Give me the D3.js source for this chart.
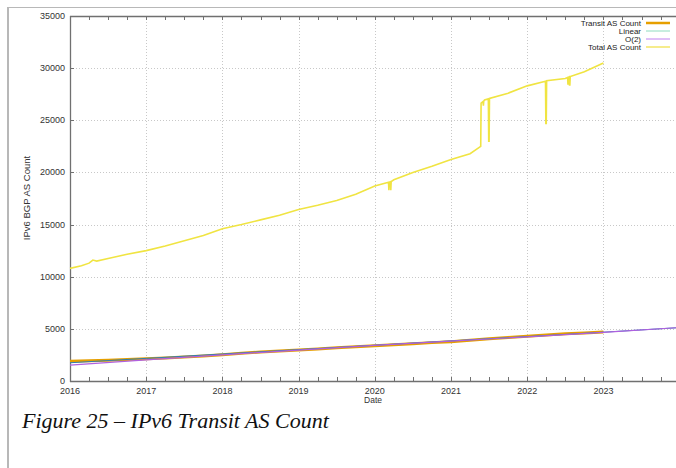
<!DOCTYPE html>
<html><head><meta charset="utf-8">
<script src="https://cdn.jsdelivr.net/npm/d3@7"></script>
<style>body{margin:0;background:#fff;overflow:hidden}svg{display:block}</style>
</head><body>
<svg id="c" width="676" height="468"></svg>
<script>
// ---- data ----
const yearTicks = [2016,2017,2018,2019,2020,2021,2022,2023];
const yTicks = [0,5000,10000,15000,20000,25000,30000,35000];
const seriesNames = ["Transit AS Count","Linear","O(2)","Total AS Count"];

const transitDates = [2016.0,2016.25,2016.5,2016.75,2017.0,2017.25,2017.5,2017.75,2018.0,2018.25,2018.5,2018.75,2019.0,2019.25,2019.5,2019.75,2020.0,2020.25,2020.5,2020.75,2021.0,2021.25,2021.5,2021.75,2022.0,2022.25,2022.5,2022.75,2023.0];
const transitValues = [1900,1950,2000,2060,2130,2210,2300,2400,2520,2650,2780,2880,2980,3080,3180,3280,3380,3480,3580,3680,3770,3900,4050,4180,4300,4420,4520,4610,4700];

const fitDates = [2016,2017,2018,2019,2020,2021,2022,2023,2024];
const linearValues = [1750,2170,2590,3010,3430,3850,4260,4680,5120];
const quadValues = [1520,2020,2510,2970,3410,3830,4240,4660,5130];

const totalDates = [2016.0,2016.15,2016.25,2016.3,2016.35,2016.5,2016.75,2017.0,2017.25,2017.5,2017.75,2018.0,2018.25,2018.5,2018.75,2019.0,2019.25,2019.5,2019.75,2020.0,2020.18,2020.185,2020.19,2020.205,2020.21,2020.215,2020.22,2020.25,2020.5,2020.75,2021.0,2021.25,2021.39,2021.395,2021.42,2021.425,2021.43,2021.44,2021.49,2021.495,2021.5,2021.505,2021.75,2022.0,2022.24,2022.245,2022.25,2022.255,2022.5,2022.53,2022.535,2022.54,2022.55,2022.555,2022.56,2022.565,2022.75,2023.0];
const totalValues = [10800,11050,11300,11600,11500,11750,12150,12500,12950,13450,13950,14600,15000,15450,15900,16450,16850,17300,17900,18700,19050,18300,19050,19100,18300,19100,19150,19300,20000,20600,21250,21800,22500,26650,26800,26400,26850,26950,27050,23000,23000,27100,27600,28300,28750,24700,24700,28800,29000,29100,28400,29100,29150,28400,28400,29200,29650,30500];

// ---- chart ----
const svg = d3.select("#c");
const W = 676, H = 468;
const x = d3.scaleLinear().domain([2016,2024]).range([70,679.6]);
const y = d3.scaleLinear().domain([0,35000]).range([381,16]);

// page frame
svg.append("line").attr("x1",8).attr("x2",W).attr("y1",7.5).attr("y2",7.5).attr("stroke","#b8b8b8").attr("stroke-width",1.2);
svg.append("line").attr("x1",8).attr("x2",8).attr("y1",7).attr("y2",H).attr("stroke","#b8b8b8").attr("stroke-width",2);

const g = svg.append("g");
// grid
g.selectAll(".gy").data(yTicks.slice(1,-1)).join("line")
  .attr("x1",70).attr("x2",W).attr("y1",d=>Math.round(y(d))+0.5).attr("y2",d=>Math.round(y(d))+0.5)
  .attr("stroke","#c8c8c8").attr("stroke-dasharray","1,2").attr("stroke-width",1);
g.selectAll(".gx").data(yearTicks.slice(1)).join("line")
  .attr("x1",d=>Math.round(x(d))+0.5).attr("x2",d=>Math.round(x(d))+0.5).attr("y1",16).attr("y2",381)
  .attr("stroke","#c8c8c8").attr("stroke-dasharray","1,2").attr("stroke-width",1);

// axes frame
const axc = "#707070";
g.append("line").attr("x1",70).attr("x2",W).attr("y1",381.5).attr("y2",381.5).attr("stroke",axc).attr("stroke-width",1.3);
g.append("line").attr("x1",70).attr("x2",W).attr("y1",16.5).attr("y2",16.5).attr("stroke",axc).attr("stroke-width",1.3);
g.append("line").attr("x1",70.5).attr("x2",70.5).attr("y1",16).attr("y2",382).attr("stroke",axc).attr("stroke-width",1.3);

// x ticks (major + minor quarter), bottom and top
const minor = d3.range(2016,2024.01,0.25);
minor.forEach(t=>{
  const px = Math.round(x(t))+0.5;
  if (px>W) return;
  g.append("line").attr("x1",px).attr("x2",px).attr("y1",381).attr("y2",377).attr("stroke",axc);
  g.append("line").attr("x1",px).attr("x2",px).attr("y1",16).attr("y2",20).attr("stroke",axc);
});
// y ticks
yTicks.forEach(t=>{
  const py = Math.round(y(t))+0.5;
  g.append("line").attr("x1",70).attr("x2",74).attr("y1",py).attr("y2",py).attr("stroke",axc);
});

const font = "Liberation Sans, Arial, sans-serif";
g.selectAll(".yl").data(yTicks).join("text")
  .attr("x",65).attr("y",d=>y(d)+3).attr("text-anchor","end")
  .attr("font-family",font).attr("font-size",9).attr("fill","#333").text(d=>d);
g.selectAll(".xl").data(yearTicks).join("text")
  .attr("x",d=>x(d)).attr("y",394).attr("text-anchor","middle")
  .attr("font-family",font).attr("font-size",9).attr("fill","#333").text(d=>d);
svg.append("text").attr("x",373).attr("y",403).attr("text-anchor","middle")
  .attr("font-family",font).attr("font-size",8.5).attr("fill","#333").text("Date");
svg.append("text").attr("transform","translate(30,198) rotate(-90)").attr("text-anchor","middle")
  .attr("font-family",font).attr("font-size",9.5).attr("fill","#333").text("IPv6 BGP AS Count");

// series
const colors = {"Transit AS Count":"#e69f00","Linear":"#5fc8a8","O(2)":"#9400d3","Total AS Count":"#f0e442"};
const line = d3.line().x(d=>x(d[0])).y(d=>y(d[1]));
const plot = g.append("g");
plot.append("path").datum(totalDates.map((d,i)=>[d,totalValues[i]]))
  .attr("d",line).attr("fill","none").attr("stroke",colors["Total AS Count"]).attr("stroke-width",1.6);
plot.append("path").datum(transitDates.map((d,i)=>[d,transitValues[i]]))
  .attr("d",line).attr("fill","none").attr("stroke",colors["Transit AS Count"]).attr("stroke-width",3);
plot.append("path").datum(fitDates.map((d,i)=>[d,linearValues[i]]))
  .attr("d",line).attr("fill","none").attr("stroke","#2f7fb0").attr("stroke-width",1);
plot.append("path").datum(fitDates.map((d,i)=>[d,quadValues[i]]))
  .attr("d",line).attr("fill","none").attr("stroke","#b060e0").attr("stroke-width",1.2);

// legend
const legY = [23,31,39,47];
const legW = {"Transit AS Count":2.5,"Linear":1,"O(2)":1,"Total AS Count":1.2};
const legC = {"Transit AS Count":"#e69f00","Linear":"#8fdcc0","O(2)":"#c080f0","Total AS Count":"#f0e040"};
seriesNames.forEach((n,i)=>{
  svg.append("text").attr("x",641).attr("y",legY[i]+3).attr("text-anchor","end")
    .attr("font-family",font).attr("font-size",8).attr("fill","#222").text(n);
  svg.append("line").attr("x1",646).attr("x2",670).attr("y1",legY[i]).attr("y2",legY[i])
    .attr("stroke",legC[n]).attr("stroke-width",legW[n]);
});

// caption
svg.append("text").attr("x",22).attr("y",428)
  .attr("font-family","Liberation Serif, Times New Roman, serif").attr("font-style","italic")
  .attr("font-size",22).attr("fill","#111").text("Figure 25 – IPv6 Transit AS Count");
</script>
</body></html>
